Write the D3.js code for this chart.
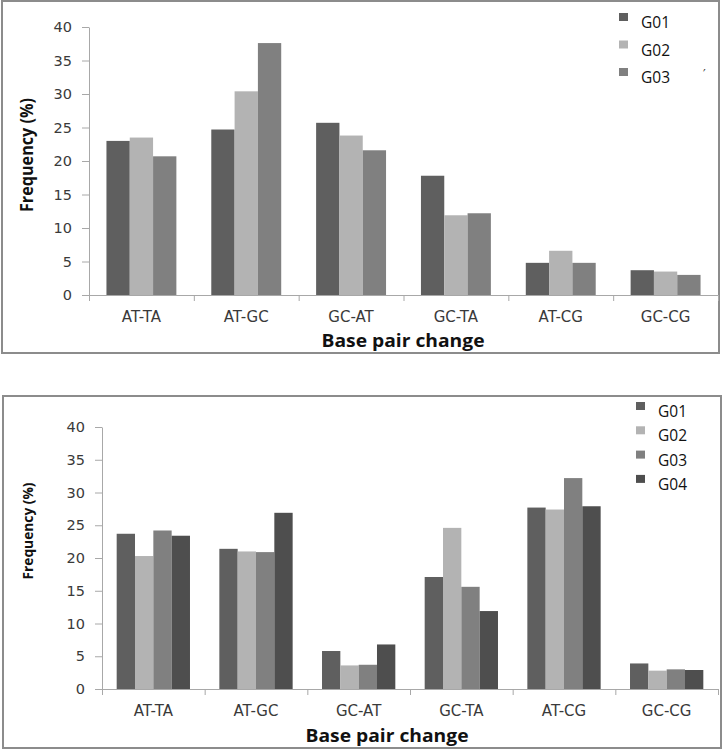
<!DOCTYPE html>
<html><head><meta charset="utf-8">
<script src="https://cdn.jsdelivr.net/npm/d3@7"></script>
<style>body{margin:0;background:#fff}svg{display:block}</style>
</head><body>
<svg id="c" width="723" height="750"></svg>
<script>
const categories = ["AT-TA","AT-GC","GC-AT","GC-TA","AT-CG","GC-CG"];
const yTicks = [0,5,10,15,20,25,30,35,40];
const topGroups = ["G01","G02","G03"];
const topG01 = [23.0,24.7,25.7,17.8,4.8,3.7];
const topG02 = [23.5,30.4,23.8,11.9,6.6,3.5];
const topG03 = [20.7,37.6,21.6,12.2,4.8,3.0];
const botGroups = ["G01","G02","G03","G04"];
const botG01 = [23.7,21.4,5.8,17.1,27.7,3.9];
const botG02 = [20.3,21.0,3.6,24.6,27.4,2.8];
const botG03 = [24.2,20.9,3.7,15.6,32.2,3.0];
const botG04 = [23.4,26.9,6.8,11.9,27.9,2.9];
const colors = {G01:"#5f5f5f",G02:"#b3b3b3",G03:"#808080",G04:"#4e4e4e"};
const xTitle = "Base pair change", yTitle = "Frequency (%)";

const svg = d3.select("#c");

function panel(cfg){
  const g = svg.append("g");
  // frame
  g.append("rect").attr("x",cfg.frame[0]).attr("y",cfg.frame[1])
    .attr("width",cfg.frame[2]-cfg.frame[0]).attr("height",cfg.frame[3]-cfg.frame[1])
    .attr("fill","none").attr("stroke","#8c8c8c").attr("stroke-width",2);
  const x0 = d3.scaleBand().domain(categories).range(cfg.xr)
    .paddingInner(cfg.pin).paddingOuter(cfg.pin/2);
  const x1 = d3.scaleBand().domain(cfg.groups).range([0,x0.bandwidth()]);
  const y = d3.scaleLinear().domain([0,40]).range(cfg.yr);
  const rows = categories.map((c,i)=>({c, vals: cfg.groups.map((gname,j)=>({g:gname,v:cfg.series[j][i]}))}));
  // bars
  g.append("g").selectAll("g").data(rows).join("g")
    .attr("transform",d=>`translate(${x0(d.c)},0)`)
    .selectAll("rect").data(d=>d.vals).join("rect")
    .attr("x",d=>x1(d.g)).attr("width",x1.bandwidth())
    .attr("y",d=>y(d.v)).attr("height",d=>y(0)-y(d.v))
    .attr("fill",d=>colors[d.g]);
  // y axis
  const ya = g.append("g").attr("transform",`translate(${cfg.xr[0]},0)`)
    .call(d3.axisLeft(y).tickValues(yTicks).tickSize(7).tickSizeOuter(0).tickPadding(10));
  ya.select(".domain").attr("stroke","#a8a8a8");
  ya.selectAll(".tick line").attr("stroke","#a8a8a8");
  ya.selectAll("text").attr("font-family","DejaVu Sans").attr("font-size",14.5).attr("fill","#3a3a3a");
  // x axis
  const step = x0.step();
  const bounds = categories.map(c=>x0(c)-step*x0.paddingOuter()).concat([cfg.xr[1]]);
  const xb = d3.scaleLinear().domain([cfg.xr[0],cfg.xr[1]]).range(cfg.xr);
  const xa = g.append("g").attr("transform",`translate(0,${y(0)})`)
    .call(d3.axisBottom(xb).tickValues(bounds).tickSize(6).tickSizeOuter(0).tickFormat(""));
  xa.select(".domain").attr("stroke","#a8a8a8");
  xa.selectAll(".tick line").attr("stroke","#a8a8a8");
  g.append("g").selectAll("text").data(categories).join("text")
    .attr("x",c=>x0(c)+x0.bandwidth()/2).attr("y",cfg.labY)
    .attr("text-anchor","middle").attr("font-family","DejaVu Sans").attr("font-size",15)
    .attr("fill","#3a3a3a").text(c=>c);
  // titles
  g.append("text").attr("x",cfg.xtX).attr("y",cfg.xtY).attr("text-anchor","middle")
    .attr("font-family","Open Sans").attr("font-weight","bold").attr("font-size",18)
    .attr("textLength",163).attr("lengthAdjust","spacingAndGlyphs")
    .attr("fill","#111").text(xTitle);
  g.append("text").attr("transform",`translate(${cfg.ytX},${cfg.ytY}) rotate(-90)`)
    .attr("text-anchor","middle").attr("font-family","Open Sans").attr("font-weight","bold")
    .attr("font-size",cfg.ytSize).attr("textLength",cfg.ytLen).attr("lengthAdjust","spacingAndGlyphs")
    .attr("fill","#111").text(yTitle);
  // legend
  const lg = g.append("g").selectAll("g").data(cfg.groups).join("g")
    .attr("transform",(d,i)=>`translate(${cfg.legX},${cfg.legY+i*cfg.legDy})`);
  lg.append("rect").attr("x",0).attr("y",-15).attr("width",9).attr("height",8).attr("fill",d=>colors[d]);
  lg.append("text").attr("x",cfg.legTx).attr("y",0).attr("font-family","Open Sans")
    .attr("font-size",15.5).attr("fill","#111").text(d=>d);
  return g;
}

panel({frame:[2,1,719,353], xr:[89,718], yr:[295,27], pin:0.333,
  groups:topGroups, series:[topG01,topG02,topG03], labY:322, xtX:403, xtY:347,
  ytX:33, ytY:155, ytSize:17, ytLen:114,
  legX:619, legY:28, legDy:27.5, legTx:22});
svg.append("text").attr("x",703).attr("y",78).attr("font-family","DejaVu Sans")
  .attr("font-size",12).attr("fill","#333").text("′");
panel({frame:[3,396,721,748], xr:[102,718], yr:[689,427], pin:0.286,
  groups:botGroups, series:[botG01,botG02,botG03,botG04], labY:716, xtX:387, xtY:742,
  ytX:33, ytY:531, ytSize:14.5, ytLen:97,
  legX:636, legY:417, legDy:24.3, legTx:22});
</script>
</body></html>
